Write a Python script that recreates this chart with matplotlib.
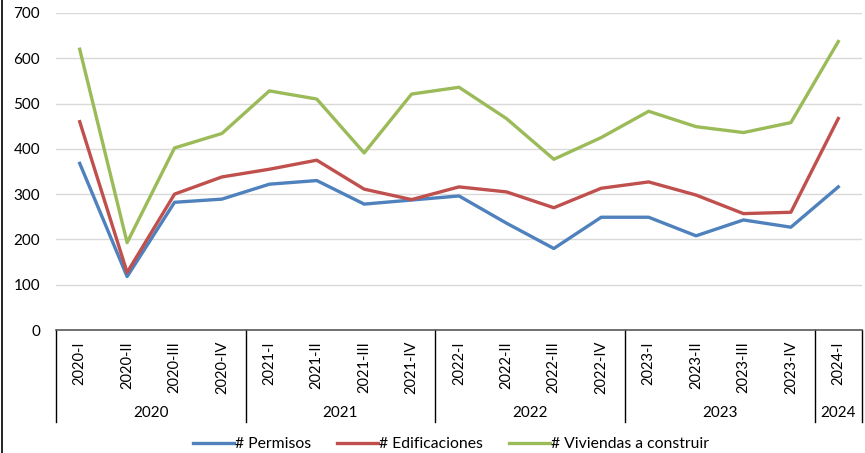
import matplotlib.pyplot as plt
from matplotlib.lines import Line2D

plt.rcParams['font.family'] = ['Lato', 'DejaVu Sans']
plt.rcParams['font.size'] = 10

quarters = ["2020-I", "2020-II", "2020-III", "2020-IV",
            "2021-I", "2021-II", "2021-III", "2021-IV",
            "2022-I", "2022-II", "2022-III", "2022-IV",
            "2023-I", "2023-II", "2023-III", "2023-IV",
            "2024-I"]
years = ["2020", "2021", "2022", "2023", "2024"]
yearSizes = [4, 4, 4, 4, 1]

permisos = [368, 118, 282, 289, 322, 330, 278, 287, 296, 236, 180, 249,
            249, 208, 243, 227, 316]
edificaciones = [460, 127, 300, 338, 355, 375, 311, 288, 316, 305, 270, 313,
                 327, 298, 257, 260, 467]
viviendas = [620, 193, 402, 434, 528, 510, 391, 521, 536, 467, 377, 425,
             483, 449, 436, 458, 637]

seriesNames = ["# Permisos", "# Edificaciones", "# Viviendas a construir"]
colors = ["#4F81BD", "#C0504D", "#9BBB59"]

fig = plt.figure(figsize=(8.65, 4.53), dpi=100)
ax = fig.add_axes([56/865, 1-330/453, (862-56)/865, (330-13)/453])

x = list(range(len(quarters)))
for values, name, color in zip([permisos, edificaciones, viviendas], seriesNames, colors):
    ax.plot(x, values, color=color, linewidth=2.4, label=name, solid_joinstyle="round")

ax.set_xlim(-0.5, len(quarters) - 0.5)
ax.set_ylim(0, 700)
ax.set_yticks(range(0, 701, 100))
ax.yaxis.grid(True, color="#D9D9D9", linewidth=1)
ax.set_axisbelow(True)
for side in ["left", "right", "top"]:
    ax.spines[side].set_visible(False)
ax.spines["bottom"].set_color("#595959")
ax.spines["bottom"].set_linewidth(1.2)
ax.tick_params(axis="y", length=0, pad=11.5, labelsize=11)
ax.set_xticks(x)
ax.set_xticklabels(quarters, rotation=90, va="top", ha="center")
ax.tick_params(axis="x", length=0, pad=8, labelsize=10.5)

# group separators and year labels below the axis
trans = ax.get_xaxis_transform()
bottomY = -(422-330)/317
boundary = -0.5
ax.plot([boundary, boundary], [0, bottomY], transform=trans, color="black", linewidth=1, clip_on=False)
for year, size in zip(years, yearSizes):
    center = boundary + size/2
    ax.text(center, -(413-330)/317, year, transform=trans, ha="center", va="center", fontsize=11)
    boundary += size
    ax.plot([boundary, boundary], [0, bottomY], transform=trans, color="black", linewidth=1, clip_on=False)

# chart border on the left
fig.add_artist(Line2D([2/865, 2/865], [0, 1], color="black", linewidth=1.2))

fig.legend(loc="center", bbox_to_anchor=(451/865, 1-444/453), ncol=3, frameon=False,
           handlelength=2.6, handletextpad=0.05, columnspacing=1.7, fontsize=11.3)

fig.savefig("out.png", dpi=100)
